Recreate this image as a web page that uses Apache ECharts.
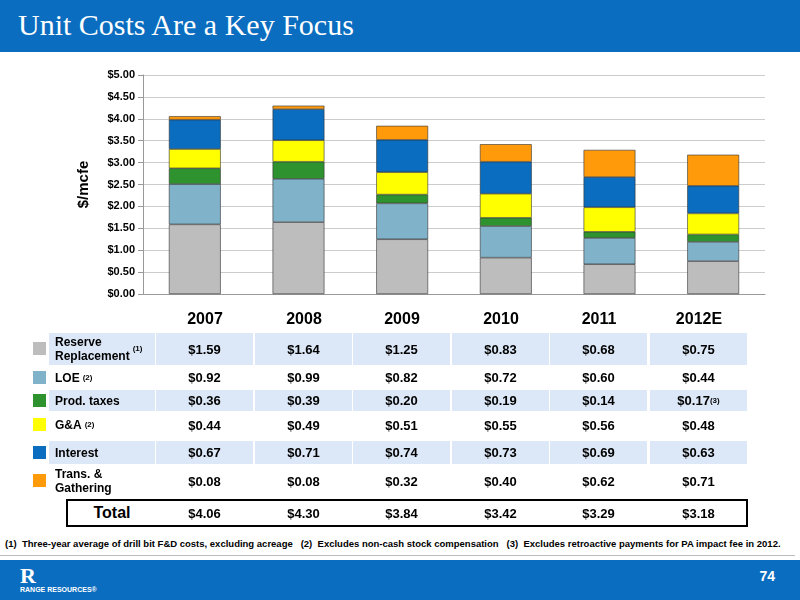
<!DOCTYPE html>
<html lang="en">
<head>
<meta charset="UTF-8">
<title>Unit Costs</title>
<style>
  body { margin:0; width:800px; height:600px; overflow:hidden; font-family:"Liberation Sans", Arial, sans-serif; background:#fff; position:relative; }
  #hdr { position:absolute; left:0; top:0; width:800px; height:52px; background:#0a6dc0; }
  #hdr span { position:absolute; left:18px; top:8px; color:#fff; font-family:"Liberation Serif", serif; font-size:30px; }
  #chart { position:absolute; left:0; top:52px; width:800px; height:260px; }
  .cell { position:absolute; font-weight:bold; font-size:13px; display:flex; align-items:center; }
  .num { justify-content:center; }
  .yr { position:absolute; font-weight:bold; font-size:16px; width:98px; text-align:center; }
  .sw { position:absolute; left:33px; width:13px; height:13px; }
  sup { font-size:8px; margin-left:3px; }
  #totbox { position:absolute; left:66px; top:499px; width:678px; height:24px; border:2px solid #000; }
  #foot { position:absolute; left:5px; top:538px; font-size:9.5px; font-weight:bold; }
  #line { position:absolute; left:0; top:555px; width:795px; height:1px; background:#bbb; }
  #fbar { position:absolute; left:0; top:560px; width:800px; height:40px; background:#0a6dc0; }
  #pg { position:absolute; right:25px; top:568px; color:#fff; font-weight:bold; font-size:14px; }
  #logo { position:absolute; left:20px; top:566px; color:#fff; font-size:7px; font-weight:bold; }
</style>
</head>
<body>
<div id="hdr"><span>Unit Costs Are a Key Focus</span></div>
<div id="chart"></div>
<div id="tblwrap"></div>
<div id="totbox"></div>
<div id="foot">(1)&nbsp; Three-year average of drill bit F&amp;D costs, excluding acreage &nbsp; (2)&nbsp; Excludes non-cash stock compensation &nbsp; (3)&nbsp; Excludes retroactive payments for PA impact fee in 2012.</div>
<div id="line"></div>
<div id="fbar"></div>
<div id="logo"><div style="font-size:22px;font-family:'Liberation Serif',serif;line-height:20px">R</div>RANGE RESOURCES®</div>
<div id="pg">74</div>
<script src="https://cdn.jsdelivr.net/npm/echarts@6/dist/echarts.min.js"></script>
<script>
var years = ['2007', '2008', '2009', '2010', '2011', '2012E'];
var reserve = [1.59, 1.64, 1.25, 0.83, 0.68, 0.75];
var loe = [0.92, 0.99, 0.82, 0.72, 0.60, 0.44];
var prodTax = [0.36, 0.39, 0.20, 0.19, 0.14, 0.17];
var ga = [0.44, 0.49, 0.51, 0.55, 0.56, 0.48];
var interest = [0.67, 0.71, 0.74, 0.73, 0.69, 0.63];
var trans = [0.08, 0.08, 0.32, 0.40, 0.62, 0.71];
var totals = [4.06, 4.30, 3.84, 3.42, 3.29, 3.18];

var rows = [
  { name: 'Reserve<br>Replacement<sup>(1)</sup>', data: reserve, color: '#bdbdbd', top: 333, h: 32, shade: true },
  { name: 'LOE <sup>(2)</sup>', data: loe, color: '#80b3c9', top: 366, h: 23, shade: false },
  { name: 'Prod. taxes', data: prodTax, color: '#2e932e', top: 390, h: 21, shade: true },
  { name: 'G&amp;A <sup>(2)</sup>', data: ga, color: '#ffff00', top: 412, h: 26, shade: false },
  { name: 'Interest', data: interest, color: '#0a6dc0', top: 441, h: 23, shade: true },
  { name: 'Trans. &amp;<br>Gathering', data: trans, color: '#ff9a0a', top: 466, h: 30, shade: false }
];
var colLeft = [156, 255, 353, 452, 550, 650];

var html = '';
years.forEach(function (y, i) {
  html += '<div class="yr" style="left:' + colLeft[i] + 'px;top:310px">' + y + '</div>';
});
rows.forEach(function (r) {
  var bg = r.shade ? 'background:#dce8f7;' : '';
  html += '<div class="sw" style="top:' + (r.top + r.h / 2 - 7) + 'px;background:' + r.color + '"></div>';
  html += '<div class="cell" style="left:49px;width:100px;padding-left:6px;top:' + r.top + 'px;height:' + r.h + 'px;' + bg + 'font-size:12px;line-height:14px">' + r.name + '</div>';
  r.data.forEach(function (v, i) {
    var txt = '$' + v.toFixed(2) + (i === 5 && r.data === prodTax ? '<sup style="margin-left:0">(3)</sup>' : '');
    html += '<div class="cell num" style="left:' + colLeft[i] + 'px;width:97px;top:' + r.top + 'px;height:' + r.h + 'px;' + bg + '">' + txt + '</div>';
  });
});
html += '<div class="cell num" style="left:68px;width:88px;top:501px;height:24px;font-size:16px">Total</div>';
totals.forEach(function (v, i) {
  html += '<div class="cell num" style="left:' + colLeft[i] + 'px;width:97px;top:501px;height:24px">$' + v.toFixed(2) + '</div>';
});
document.getElementById('tblwrap').innerHTML = html;

var chart = echarts.init(document.getElementById('chart'));
chart.setOption({
  animation: false,
  grid: { left: 143, right: 35, top: 23, bottom: 18 },
  xAxis: {
    type: 'category', data: years,
    axisLabel: { show: false }, axisTick: { show: false },
    axisLine: { lineStyle: { color: '#999' } }
  },
  yAxis: {
    type: 'value', min: 0, max: 5, interval: 0.5,
    name: '$/mcfe', nameLocation: 'middle', nameGap: 52,
    nameTextStyle: { fontWeight: 'bold', fontSize: 15, color: '#000' },
    axisLabel: { formatter: function (v) { return '$' + v.toFixed(2); }, fontWeight: 'bold', fontSize: 11, color: '#000' },
    axisLine: { show: true, lineStyle: { color: '#999' } },
    axisTick: { show: true, lineStyle: { color: '#999' } },
    splitLine: { lineStyle: { color: '#ccc' } }
  },
  series: rows.map(function (r) {
    return {
      type: 'bar', stack: 'cost', data: r.data, barWidth: '50%',
      itemStyle: { color: r.color, borderColor: '#333', borderWidth: 0.6 }
    };
  })
});
</script>
</body>
</html>
